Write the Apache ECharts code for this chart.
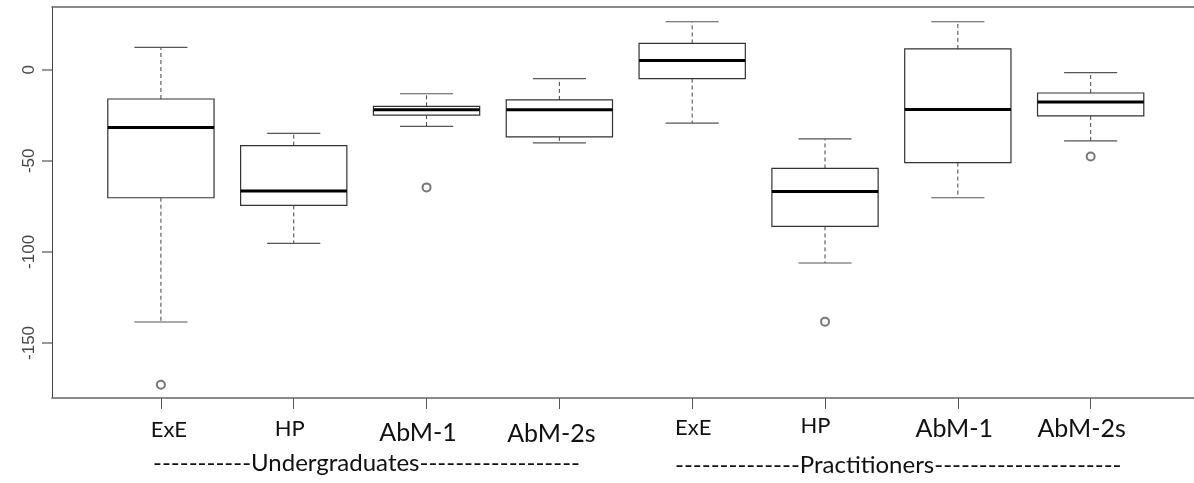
<!DOCTYPE html>
<html>
<head>
<meta charset="utf-8">
<script src="https://cdn.jsdelivr.net/npm/echarts@6/dist/echarts.min.js"></script>
<style>
  html, body { margin: 0; padding: 0; background: #ffffff; }
  #chart { width: 1194px; height: 483px; }
</style>
</head>
<body>
<div id="chart"></div>
<script>
// box statistics, one entry per box
var categories = ['ExE', 'HP', 'AbM-1', 'AbM-2s', 'ExE', 'HP', 'AbM-1', 'AbM-2s'];
var whiskerLow = [-138.5, -95.3, -31.1, -40.2, -29.3, -106.1, -70.3, -39.1];
var q1 = [-70.3, -74.5, -24.9, -36.9, -4.9, -86.0, -51.0, -25.4];
var median = [-31.7, -66.6, -22.0, -22.0, 5.1, -66.8, -21.8, -17.7];
var q3 = [-16.1, -41.7, -20.1, -16.6, 14.4, -54.2, 11.4, -12.8];
var whiskerHigh = [12.2, -35.0, -13.2, -4.9, 26.3, -38.0, 26.3, -1.6];
var outliers = [[1, -172.9], [3, -64.6], [6, -138.3], [8, -47.7]];
var yTicks = [-150, -100, -50, 0];
var groups = ['-----------Undergraduates------------------', '--------------Practitioners---------------------'];

// label look: shift from tick (px), vertical centre, font size
var labelLook = [
  { dx: 8, cy: 451, fs: 22 },
  { dx: -4, cy: 448, fs: 22 },
  { dx: -8.5, cy: 455, fs: 25 },
  { dx: -8, cy: 456.5, fs: 25 },
  { dx: 1, cy: 447, fs: 22 },
  { dx: -9.5, cy: 443.5, fs: 22 },
  { dx: -3.5, cy: 446.5, fs: 25 },
  { dx: -9, cy: 446.5, fs: 25 }
];

var boxData = categories.map(function (c, i) {
  return [i + 1, whiskerLow[i], q1[i], median[i], q3[i], whiskerHigh[i]];
});

var rich = {};
labelLook.forEach(function (l, i) {
  var top = l.cy - 398 - l.fs / 2;
  rich['c' + i] = {
    fontFamily: 'Lato',
    fontSize: l.fs,
    lineHeight: l.fs,
    color: '#111',
    padding: [top, l.dx < 0 ? -2 * l.dx : 0, 0, l.dx > 0 ? 2 * l.dx : 0]
  };
});

function renderBox(params, api) {
  var x = api.value(0);
  var lo = api.coord([x, api.value(1)]);
  var b1 = api.coord([x, api.value(2)]);
  var md = api.coord([x, api.value(3)]);
  var b3 = api.coord([x, api.value(4)]);
  var hi = api.coord([x, api.value(5)]);
  var w = api.size([0.8, 0])[0];
  var cx = lo[0];
  var dash = { stroke: '#444', lineWidth: 1, lineDash: [4, 3] };
  var solid = { stroke: '#555', lineWidth: 1.2 };
  return {
    type: 'group',
    children: [
      { type: 'line', shape: { x1: cx, y1: b3[1], x2: cx, y2: hi[1] }, style: dash },
      { type: 'line', shape: { x1: cx, y1: b1[1], x2: cx, y2: lo[1] }, style: dash },
      { type: 'line', shape: { x1: cx - w / 4, y1: hi[1], x2: cx + w / 4, y2: hi[1] }, style: solid },
      { type: 'line', shape: { x1: cx - w / 4, y1: lo[1], x2: cx + w / 4, y2: lo[1] }, style: solid },
      { type: 'rect', shape: { x: cx - w / 2, y: b3[1], width: w, height: b1[1] - b3[1] },
        style: { fill: '#fff', stroke: '#333', lineWidth: 1.2 } },
      { type: 'line', shape: { x1: cx - w / 2, y1: md[1], x2: cx + w / 2, y2: md[1] },
        style: { stroke: '#000', lineWidth: 3 } }
    ]
  };
}

var chart = echarts.init(document.getElementById('chart'));
chart.setOption({
  backgroundColor: '#ffffff',
  animation: false,
  grid: { left: 52, right: 0, top: 7, bottom: 85 },
  xAxis: [
    {
      type: 'value',
      min: 0.18,
      max: 8.778,
      splitLine: { show: false },
      axisLine: { show: true, onZero: false, lineStyle: { color: '#666', width: 1.5 } },
      axisTick: { show: true, customValues: [1, 2, 3, 4, 5, 6, 7, 8], length: 11, lineStyle: { color: '#555' } },
      axisLabel: {
        show: true,
        customValues: [1, 2, 3, 4, 5, 6, 7, 8],
        margin: 0,
        verticalAlign: 'top',
        formatter: function (v) {
          var i = Math.round(v) - 1;
          return '{c' + i + '|' + categories[i] + '}';
        },
        rich: rich
      }
    },
    {
      type: 'value',
      position: 'top',
      min: 0.18,
      max: 8.778,
      splitLine: { show: false },
      axisLine: { show: true, onZero: false, lineStyle: { color: '#666', width: 1.5 } },
      axisTick: { show: false },
      axisLabel: { show: false }
    }
  ],
  yAxis: {
    type: 'value',
    min: -180.2,
    max: 34.4,
    splitLine: { show: false },
    axisLine: { show: true, onZero: false, lineStyle: { color: '#444', width: 1 } },
    axisTick: { show: true, customValues: yTicks, length: 10, lineStyle: { color: '#777', width: 1.5 } },
    axisLabel: {
      customValues: yTicks,
      rotate: 90,
      margin: 14,
      fontFamily: 'Liberation Sans',
      fontSize: 17,
      color: '#444'
    }
  },
  graphic: [
    { type: 'text', left: 153, top: 451, style: { text: groups[0], font: '24px Lato', fill: '#111' } },
    { type: 'text', left: 675, top: 453, style: { text: groups[1], font: '24px Lato', fill: '#111' } }
  ],
  series: [
    {
      type: 'custom',
      renderItem: renderBox,
      encode: { x: 0, y: [1, 2, 3, 4, 5] },
      data: boxData
    },
    {
      type: 'scatter',
      symbol: 'emptyCircle',
      symbolSize: 8,
      itemStyle: { color: '#555', borderColor: '#555', borderWidth: 0.8 },
      data: outliers
    }
  ]
});
</script>
</body>
</html>
